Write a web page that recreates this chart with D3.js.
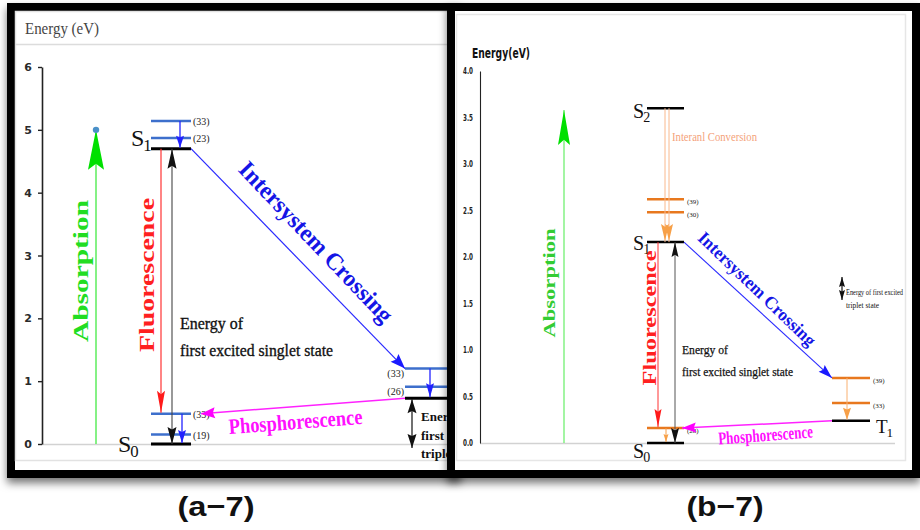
<!DOCTYPE html>
<html>
<head>
<meta charset="utf-8">
<script src="https://cdn.jsdelivr.net/npm/d3@7"></script>
<style>
  body { margin: 0; background: #fff; }
  svg { display: block; }
</style>
</head>
<body>
<svg id="chart" width="920" height="530"></svg>
<script>
// ---- panel (a-7) energies, eV ----
const aTicks = [0, 1, 2, 3, 4, 5, 6];
const aStates = { S0: 0, S1: 4.7, T1: 0.73 };
const aS1Vib = [{ e: 5.14, label: '(33)' }, { e: 4.87, label: '(23)' }];
const aS0Vib = [{ e: 0.48, label: '(33)' }, { e: 0.15, label: '(19)' }];
const aT1Vib = [{ e: 1.2, label: '(33)' }, { e: 0.91, label: '(26)' }];
const aAbsTop = 5.0;

// ---- panel (b-7) energies, eV ----
const bTicks = [0, 0.5, 1, 1.5, 2, 2.5, 3, 3.5, 4];
const bStates = { S0: 0, S1: 2.16, S2: 3.6, T1: 0.24 };
const bS1Vib = [{ e: 2.62, label: '(39)' }, { e: 2.48, label: '(30)' }];
const bS0Vib = [{ e: 0.16, label: '(28)' }];
const bT1Vib = [{ e: 0.70, label: '(39)' }, { e: 0.43, label: '(33)' }];
const bAbsTop = 3.58;

const SERIF = "'Liberation Serif', 'Times New Roman', serif";
const SANS = "'Liberation Sans', Arial, sans-serif";

const svg = d3.select('#chart');
const defs = svg.append('defs');
defs.append('filter').attr('id', 'shadow')
    .attr('x', '-5%').attr('y', '-5%').attr('width', '110%').attr('height', '115%')
  .append('feDropShadow')
    .attr('dx', 0).attr('dy', 5).attr('stdDeviation', 4)
    .attr('flood-color', '#000').attr('flood-opacity', 0.55);
// panel a is partly hidden behind panel b
defs.append('clipPath').attr('id', 'clipA')
  .append('rect').attr('x', 0).attr('y', 0).attr('width', 448).attr('height', 530);

// helpers
function hline(g, x1, x2, y, color, w) {
  g.append('line').attr('x1', x1).attr('x2', x2).attr('y1', y).attr('y2', y)
    .attr('stroke', color).attr('stroke-width', w);
}
function seg(g, p, q, color, w) {
  g.append('line').attr('x1', p[0]).attr('y1', p[1]).attr('x2', q[0]).attr('y2', q[1])
    .attr('stroke', color).attr('stroke-width', w);
}
function head(g, tip, from, len, wid, color) {
  const dx = tip[0] - from[0], dy = tip[1] - from[1], L = Math.hypot(dx, dy);
  const ux = dx / L, uy = dy / L;
  const bx = tip[0] - ux * len, by = tip[1] - uy * len;
  const nx = tip[0] - ux * len * 0.85, ny = tip[1] - uy * len * 0.85;
  const px = -uy * wid / 2, py = ux * wid / 2;
  g.append('path')
    .attr('d', `M${tip[0]},${tip[1]}L${bx + px},${by + py}L${nx},${ny}L${bx - px},${by - py}Z`)
    .attr('fill', color);
}
function arrow(g, from, tip, color, w, len, wid, headColor) {
  seg(g, from, tip, color, w);
  head(g, tip, from, len, wid, headColor || color);
}
function txt(g, s, x, y, o) {
  const t = g.append('text').attr('x', x).attr('y', y).text(s)
    .attr('font-family', o.family || SERIF)
    .attr('font-size', o.size)
    .attr('font-weight', o.weight || 'normal')
    .attr('fill', o.fill || '#111')
    .attr('text-anchor', o.anchor || 'start');
  if (o.len) t.attr('textLength', o.len).attr('lengthAdjust', 'spacingAndGlyphs');
  if (o.heavy) t.attr('stroke', o.fill || '#111').attr('stroke-width', o.heavy);
  return t;
}
function rtxt(g, s, cx, cy, angle, o) {
  const t = txt(g, s, 0, 0, Object.assign({ anchor: 'middle' }, o))
    .attr('transform', `translate(${cx},${cy}) rotate(${angle})`);
  if (o.central) t.attr('dominant-baseline', 'central');
  return t;
}
function stateLabel(g, base, sub, x, y, size) {
  const t = g.append('text').attr('x', x).attr('y', y)
    .attr('font-family', SERIF).attr('font-size', size).attr('fill', '#111');
  t.append('tspan').text(base);
  t.append('tspan').attr('font-size', size * 0.7).attr('dx', -1).attr('dy', size * 0.22).text(sub);
}

// ================= panel (a-7) =================
const paFrame = svg.append('g');
paFrame.append('rect').attr('x', 11).attr('y', 7).attr('width', 446).attr('height', 467)
  .attr('fill', '#fff').attr('stroke', '#000').attr('stroke-width', 8).attr('filter', 'url(#shadow)');
const pa = svg.append('g').attr('clip-path', 'url(#clipA)');
pa.append('rect').attr('x', 15.5).attr('y', 11.5).attr('width', 440).attr('height', 449)
  .attr('fill', 'none').attr('stroke', '#e2e2e2').attr('stroke-width', 1.5);
hline(pa, 15, 456, 44.5, '#dcdcdc', 1.5);
txt(pa, 'Energy (eV)', 25, 34, { size: 16, fill: '#444', len: 74 });

const ya = d3.scaleLinear().domain([0, 6]).range([444, 67]);
const A = { axisX: 42, absX: 96, sx1: 151, sx2: 191, fluoX: 161, gapX: 172,
            vibS1X: 180, vibS0X: 182, tx1: 405, tx2: 462, vibTX: 430, tGapX: 412 };

hline(pa, A.axisX, 460, ya(0) + 0.5, '#d2d2d2', 1.5);
const axA = pa.append('g').attr('transform', `translate(${A.axisX},0)`)
  .call(d3.axisLeft(ya).tickValues(aTicks).tickSize(4).tickSizeOuter(0).tickPadding(6)
    .tickFormat(d3.format('d')));
axA.select('.domain').attr('stroke', '#222').attr('stroke-width', 1.6);
axA.selectAll('.tick line').attr('stroke', '#222').attr('stroke-width', 1.4);
axA.selectAll('.tick text').attr('font-family', "'DejaVu Sans', sans-serif")
  .attr('font-size', 11).attr('font-weight', 'bold').attr('fill', '#2a2a2a');

// absorption
arrow(pa, [A.absX, ya(0)], [A.absX, ya(aAbsTop)], '#5cec5c', 1.5, 40, 16, '#00e000');
pa.append('circle').attr('cx', A.absX).attr('cy', ya(aAbsTop)).attr('r', 3.2).attr('fill', '#4a90c8');
rtxt(pa, 'Absorption', 80, 271, -90, { size: 22, weight: 'bold', fill: '#22dd22', len: 142, central: true });

// singlet levels
hline(pa, A.sx1, A.sx2, ya(aStates.S1), '#000', 3);
hline(pa, A.sx1, A.sx2, ya(aStates.S0), '#000', 3);
aS1Vib.concat(aS0Vib).forEach(d => {
  hline(pa, A.sx1, A.sx2, ya(d.e), '#3d6fcc', 2.5);
  txt(pa, d.label, A.sx2 + 2, ya(d.e) + 4, { size: 10, fill: '#222' });
});
arrow(pa, [A.vibS1X, ya(aS1Vib[0].e)], [A.vibS1X, ya(aStates.S1) - 1], '#2222ff', 1.3, 12, 8);
arrow(pa, [A.vibS0X, ya(aS0Vib[0].e)], [A.vibS0X, ya(aStates.S0) - 1], '#2222ff', 1.3, 13, 8);
stateLabel(pa, 'S', '1', 131, 146, 24);
stateLabel(pa, 'S', '0', 118, 452, 24);

// fluorescence
arrow(pa, [A.fluoX, ya(aStates.S1)], [A.fluoX, ya(aS0Vib[0].e) - 1], '#ff3333', 1.2, 22, 8, '#ff1a1a');
rtxt(pa, 'Fluorescence', 146, 275, -90, { size: 22, weight: 'bold', fill: '#ff2020', len: 154, central: true });

// singlet energy gap (double arrow)
seg(pa, [A.gapX, ya(0)], [A.gapX, ya(aStates.S1)], '#444', 1.1);
head(pa, [A.gapX, ya(aStates.S1)], [A.gapX, ya(0)], 20, 9, '#111');
head(pa, [A.gapX, ya(0)], [A.gapX, ya(aStates.S1)], 17, 9, '#111');
txt(pa, 'Energy of', 180, 329, { size: 17, len: 63, heavy: 0.35 });
txt(pa, 'first excited singlet state', 180, 356, { size: 17, len: 153, heavy: 0.35 });

// intersystem crossing
arrow(pa, [A.sx2, ya(aStates.S1)], [A.tx1, ya(aT1Vib[0].e)], '#2a2aff', 1.2, 15, 11, '#1a1aff');
rtxt(pa, 'Intersystem Crossing', 316, 242, 46.5, { size: 24, weight: 'bold', fill: '#1515e6', len: 212, central: true });

// triplet levels
hline(pa, A.tx1, A.tx2, ya(aStates.T1), '#000', 3);
aT1Vib.forEach(d => {
  hline(pa, A.tx1, A.tx2, ya(d.e), '#3d6fcc', 2.5);
  txt(pa, d.label, A.tx1 - 1, ya(d.e) + 8, { size: 10, fill: '#222', anchor: 'end' });
});
arrow(pa, [A.vibTX, ya(aT1Vib[0].e)], [A.vibTX, ya(aStates.T1) - 1], '#2222ff', 1.3, 14, 8);

// phosphorescence
arrow(pa, [A.tx1, ya(aStates.T1)], [A.sx2 + 10, ya(aS0Vib[0].e)], '#ff22ff', 1.5, 14, 11, '#ff00ff');
rtxt(pa, 'Phosphorescence', 296, 429, -4.3, { size: 22, weight: 'bold', fill: '#ff10ff', len: 134 });

// triplet energy gap
seg(pa, [A.tGapX, ya(aStates.T1) + 1], [A.tGapX, ya(0) + 4], '#111', 1.2);
head(pa, [A.tGapX, ya(aStates.T1) + 1], [A.tGapX, ya(0)], 14, 9, '#111');
head(pa, [A.tGapX, ya(0) + 4], [A.tGapX, ya(aStates.T1)], 14, 9, '#111');
txt(pa, 'Energy of', 421, 421, { size: 13, weight: 'bold' });
txt(pa, 'first excited', 421, 440, { size: 13, weight: 'bold' });
txt(pa, 'triplet state', 421, 458, { size: 13, weight: 'bold' });

// ================= panel (b-7) =================
const pb = svg.append('g');
pb.append('rect').attr('x', 451).attr('y', 7).attr('width', 465).attr('height', 467)
  .attr('fill', '#fff').attr('stroke', '#000').attr('stroke-width', 8).attr('filter', 'url(#shadow)');
pb.append('rect').attr('x', 456.5).attr('y', 14.5).attr('width', 449).attr('height', 446)
  .attr('fill', 'none').attr('stroke', '#e6e6e6').attr('stroke-width', 1.5);
txt(pb, 'Energy(eV)', 472, 58, { family: "'DejaVu Sans', sans-serif", size: 14, weight: 'bold', len: 58 });

const yb = d3.scaleLinear().domain([0, 4]).range([443, 71]);
const B = { axisX: 480, absX: 564, sx1: 647, sx2: 684, icX1: 665, icX2: 669, fluoX: 658,
            gapX: 675, vibS0X: 666, tx1: 832, tx2: 870, vibTX: 847, noteX: 842, noteY1: 277, noteY2: 300 };

hline(pb, B.axisX, 895, yb(0) + 0.5, '#d2d2d2', 1.5);
const axB = pb.append('g').attr('transform', `translate(${B.axisX},0)`)
  .call(d3.axisLeft(yb).tickValues(bTicks).tickSize(0).tickPadding(7).tickFormat(d3.format('.1f')));
axB.select('.domain').attr('stroke', '#222').attr('stroke-width', 1.1);
axB.selectAll('.tick text').attr('font-family', "'DejaVu Sans', sans-serif")
  .attr('font-size', 9).attr('font-weight', 'bold').attr('fill', '#222')
  .attr('textLength', 10).attr('lengthAdjust', 'spacingAndGlyphs');

// absorption
arrow(pb, [B.absX, yb(0)], [B.absX, yb(bAbsTop)], '#66ee66', 1.2, 35, 12, '#00e000');
rtxt(pb, 'Absorption', 549, 283, -90, { size: 17, weight: 'bold', fill: '#33cc33', len: 109, central: true });

// singlet levels
hline(pb, B.sx1, B.sx2, yb(bStates.S2), '#000', 2.5);
hline(pb, B.sx1, B.sx2, yb(bStates.S1), '#000', 2.5);
hline(pb, B.sx1, B.sx2, yb(bStates.S0), '#000', 2.5);
bS1Vib.concat(bS0Vib).forEach(d => {
  hline(pb, B.sx1, B.sx2, yb(d.e), '#e8781e', 2.5);
  txt(pb, d.label, B.sx2 + 3, yb(d.e) + 5, { size: 7, fill: '#222' });
});
stateLabel(pb, 'S', '2', 633, 118, 20);
stateLabel(pb, 'S', '1', 633, 250, 20);
stateLabel(pb, 'S', '0', 633, 458, 20);

// internal conversion
seg(pb, [B.icX1, yb(bStates.S2)], [B.icX1, yb(bStates.S1)], '#f9b88c', 1);
seg(pb, [B.icX2, yb(bStates.S2)], [B.icX2, yb(bStates.S1)], '#f9b88c', 1);
head(pb, [B.icX1, yb(bStates.S1) - 1], [B.icX1, yb(bStates.S2)], 17, 8, '#f7a048');
head(pb, [B.icX2, yb(bStates.S1) - 1], [B.icX2, yb(bStates.S2)], 17, 8, '#f7a048');
txt(pb, 'Interanl Conversion', 672, 141, { size: 13, fill: '#f4a27a', len: 85 });

// fluorescence
arrow(pb, [B.fluoX, yb(bStates.S1)], [B.fluoX, yb(bS0Vib[0].e) - 1], '#ff3333', 1, 18, 7, '#ff1a1a');
rtxt(pb, 'Fluorescence', 650, 318, -90, { size: 18, weight: 'bold', fill: '#ff2020', len: 135, central: true });

// singlet energy gap
seg(pb, [B.gapX, yb(0)], [B.gapX, yb(bStates.S1)], '#555', 1);
head(pb, [B.gapX, yb(bStates.S1)], [B.gapX, yb(0)], 15, 7, '#111');
head(pb, [B.gapX, yb(0)], [B.gapX, yb(bStates.S1)], 15, 8, '#111');
arrow(pb, [B.vibS0X, yb(bS0Vib[0].e)], [B.vibS0X, yb(0) - 1], '#f7a048', 1, 8, 5);
txt(pb, 'Energy of', 682, 354, { size: 13, len: 46, heavy: 0.25 });
txt(pb, 'first excited singlet state', 682, 376, { size: 13, len: 111, heavy: 0.25 });

// intersystem crossing
arrow(pb, [B.sx2, yb(bStates.S1)], [B.tx1, yb(bT1Vib[0].e)], '#2a2aff', 1.1, 14, 9, '#1a1aff');
rtxt(pb, 'Intersystem Crossing', 757, 289, 44, { size: 18, weight: 'bold', fill: '#1515e6', len: 156, central: true });

// triplet levels
hline(pb, B.tx1, B.tx2, yb(bStates.T1), '#000', 2.5);
bT1Vib.forEach(d => {
  hline(pb, B.tx1, B.tx2, yb(d.e), '#e8781e', 2.5);
  txt(pb, d.label, B.tx2 + 3, yb(d.e) + 5, { size: 7, fill: '#222' });
});
arrow(pb, [B.vibTX, yb(bT1Vib[0].e)], [B.vibTX, yb(bStates.T1) - 1], '#f9b070', 1, 12, 8, '#f7a048');
stateLabel(pb, 'T', '1', 876, 433, 19);

// phosphorescence
arrow(pb, [B.tx1, yb(bStates.T1)], [B.sx2 - 2, yb(bS0Vib[0].e)], '#ff22ff', 1.5, 14, 10, '#ff00ff');
rtxt(pb, 'Phosphorescence', 766, 441, -4.3, { size: 18, weight: 'bold', fill: '#ff10ff', len: 95 });

// triplet energy note
seg(pb, [B.noteX, B.noteY1], [B.noteX, B.noteY2], '#111', 1.2);
head(pb, [B.noteX, B.noteY1], [B.noteX, B.noteY2], 10, 6, '#111');
head(pb, [B.noteX, B.noteY2], [B.noteX, B.noteY1], 10, 6, '#111');
txt(pb, 'Energy of first excited', 846, 295, { size: 8.5, len: 57 });
txt(pb, 'triplet state', 846, 308, { size: 8.5, len: 33 });

// ================= captions =================
txt(svg, '(a\u22127)', 216, 516, { family: SANS, size: 28, weight: 'bold', anchor: 'middle', len: 77 });
txt(svg, '(b\u22127)', 725, 516, { family: SANS, size: 28, weight: 'bold', anchor: 'middle', len: 77 });
</script>
</body>
</html>
